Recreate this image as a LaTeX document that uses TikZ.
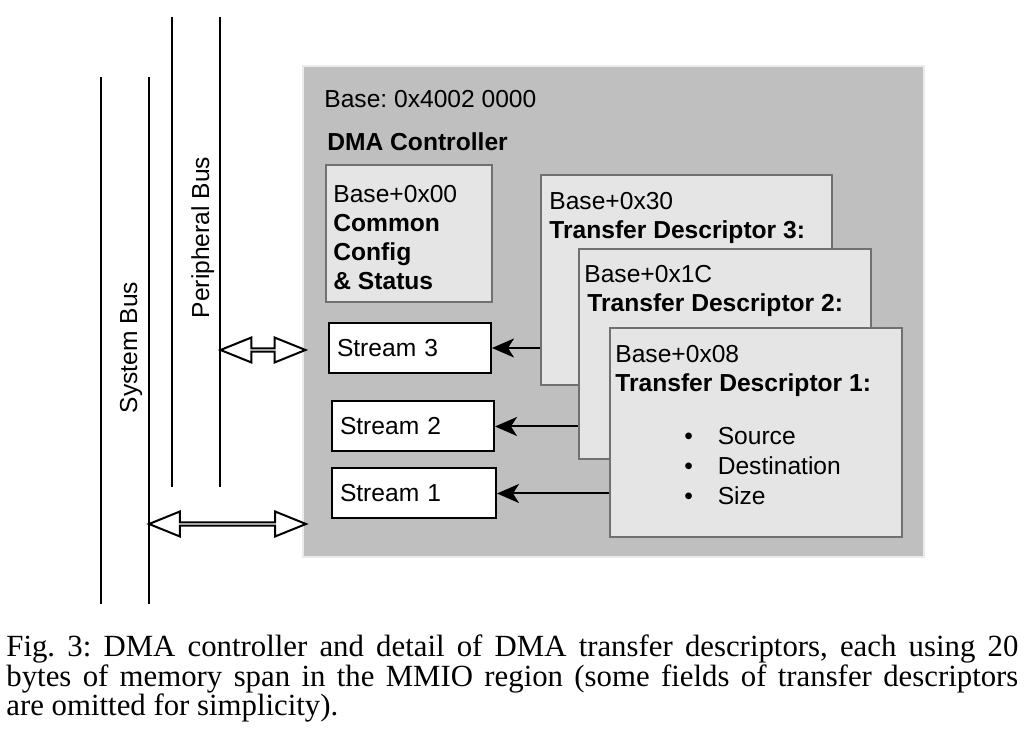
\documentclass[tikz,border=0pt]{standalone}
\usepackage{fontspec}
\setmainfont{Liberation Sans}
\newfontfamily\capfont{Liberation Serif}
\usetikzlibrary{arrows.meta,shapes.arrows,fit}

\tikzset{
  bus/.style={line width=1pt},
  regbox/.style={draw=black!56, fill=black!10, line width=1pt, inner sep=0pt},
  stream/.style={draw, fill=white, line width=1pt, anchor=west, minimum height=25pt,
    text width=73pt, inner xsep=4pt, align=left},
  conn/.style={->, line width=1pt},
  busarrow/.style={double arrow, draw, fill=white, line width=1pt, inner sep=0pt,
    minimum width=12.5pt, double arrow head extend=3.25pt, double arrow tip angle=44},
  txt/.style={anchor=north west, inner sep=0pt, align=left},
  captxt/.style={anchor=base west, inner sep=0pt, font=\capfont\fontsize{15.4}{15}\selectfont}
}

\begin{document}
\frenchspacing
\begin{tikzpicture}[>={Stealth[length=11pt,width=9.5pt,inset=3pt]}, x=0.5pt, y=-0.5pt,
    font=\fontsize{12.3}{14.5}\selectfont]
        \useasboundingbox (0,0) rectangle (1030,742);
        % System bus and peripheral bus
        \draw[bus] (101,77) -- (101,604);
        \draw[bus] (149,77) -- (149,604);
        \draw[bus] (172,17) -- (172,487);
        \draw[bus] (220,17) -- (220,487);
        \coordinate (sysbus) at (149,524);
        \coordinate (perbus) at (220,350);
        \node[rotate=90, anchor=base] (syslabel) at (137,347.5) {System Bus};
        \node[rotate=90, anchor=base] (perlabel) at (209,237.5) {Peripheral Bus};
        % DMA controller
        \node[fill=black!25, draw=black!8, line width=1pt, inner sep=0pt,
          fit={(303,66) (924,557)}] (dma) {};
        \node[txt] (base) at (324,90) {Base: 0x4002 0000};
        \node[txt] (title) at (327,132) {\textbf{DMA Controller}};
        % Common registers
        \node[regbox, fit={(326,165) (492,302)}] (common) {};
        \node[txt] (commontxt) at (333,185)
          {Base+0x00\\\textbf{Common}\\\textbf{Config}\\\textbf{\& Status}};
        % Transfer descriptors
        \node[regbox, fit={(541,175) (832,385)}] (td3) {};
        \node[txt] (td3txt) at (549,192) {Base+0x30\\\textbf{Transfer Descriptor 3:}};
        \node[regbox, fit={(579,249) (871,459)}] (td2) {};
        \node[txt] (td2txt) at (584,265) {Base+0x1C\\\hspace*{1.5pt}\textbf{Transfer Descriptor 2:}};
        \node[regbox, fit={(610,328) (902,537)}] (td1) {};
        \node[txt] (td1txt) at (615,345) {Base+0x08\\\textbf{Transfer Descriptor 1:}};
        \node[txt, font=\fontsize{12.3}{15}\selectfont] (fields) at (684,427)
          {\makebox[16.7pt][l]{\textbullet}Source\\
           \makebox[16.7pt][l]{\textbullet}Destination\\
           \makebox[16.7pt][l]{\textbullet}Size};
        % Streams
        \node[stream] (s3) at (328,348) {Stream 3};
        \node[stream] (s2) at (331,426.5) {Stream 2};
        \node[stream, text width=74pt] (s1) at (331,493.5) {Stream 1};
        \draw[conn] (td3.west |- s3.east) -- (s3.east);
        \draw[conn] (td2.west |- s2.east) -- (s2.east);
        \draw[conn] (td1.west |- s1.east) -- (s1.east);
        % Bus interfaces
        \path (perbus) -- ([xshift=2pt]dma.west |- perbus)
          node[busarrow, midway, minimum height=42.5pt] (perarrow) {};
        \path (sysbus) -- ([xshift=2pt]dma.west |- sysbus)
          node[busarrow, midway, minimum height=78.5pt] (sysarrow) {};
        % Caption
        \node[captxt] (cap1) at (6,657)
          {\makebox[506pt][s]{Fig. 3: DMA controller and detail of DMA transfer descriptors, each using 20}};
        \node[captxt] (cap2) at (6,686.5)
          {\makebox[506pt][s]{bytes of memory span in the MMIO region (some fields of transfer descriptors}};
        \node[captxt] (cap3) at (6,716) {are omitted for simplicity).};
      \end{tikzpicture}
\end{document}
